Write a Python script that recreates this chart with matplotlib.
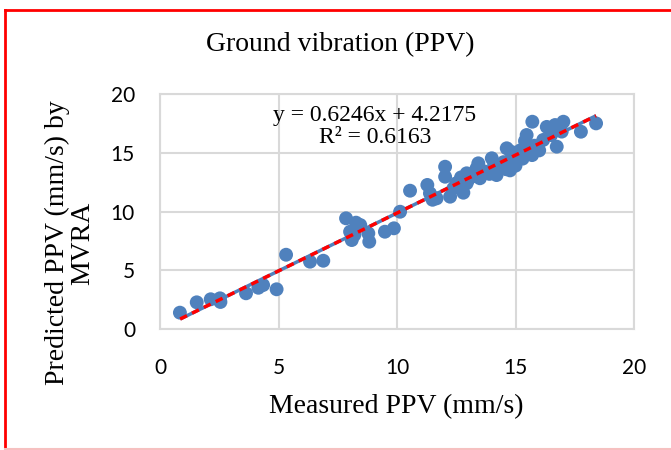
import matplotlib
matplotlib.use("Agg")
import matplotlib.pyplot as plt
from matplotlib.lines import Line2D

measured = [0.84, 1.55, 2.14, 2.53, 2.55, 3.63, 4.15, 4.35, 4.92, 5.32, 6.33, 6.89,
            7.85, 8.27, 8.45, 8.02, 8.09, 8.20, 8.79, 8.83, 9.49, 9.87, 10.13, 10.55,
            11.28, 11.39, 11.67, 11.50, 12.03, 12.03, 12.24, 12.38, 12.50, 12.94, 12.94,
            12.80, 13.00, 13.20, 13.43, 13.50, 13.70, 13.90, 14.00, 14.20, 14.30, 14.50,
            14.60, 14.77, 14.63, 14.80, 14.90, 15.00, 15.10, 15.20, 15.30, 15.47, 15.71,
            15.40, 15.50, 15.70, 15.80, 15.90, 16.00, 16.17, 16.32, 16.50, 16.67, 16.74,
            16.95, 17.02, 17.76, 18.40, 13.35, 14.10, 12.70]
predicted = [1.39, 2.27, 2.53, 2.61, 2.30, 3.04, 3.51, 3.74, 3.38, 6.32, 5.73, 5.81,
             9.42, 9.05, 8.85, 8.28, 7.57, 8.00, 8.14, 7.43, 8.28, 8.57, 9.98, 11.77,
             12.26, 11.55, 11.12, 11.00, 13.81, 12.96, 11.26, 11.97, 12.40, 13.25, 12.40,
             11.60, 12.70, 13.00, 14.10, 12.83, 13.40, 13.20, 14.53, 13.10, 13.80, 14.20,
             13.60, 13.50, 15.38, 15.10, 14.40, 13.90, 14.70, 15.20, 14.50, 16.51, 17.64,
             16.00, 15.00, 14.80, 15.60, 15.52, 15.20, 16.09, 17.20, 16.50, 17.36, 15.52,
             16.80, 17.64, 16.79, 17.50, 13.65, 14.00, 12.90]
trend_x = [0.85, 18.40]
trend_y = [0.85, 18.15]
x_ticks = [0, 5, 10, 15, 20]
y_ticks = [0, 5, 10, 15, 20]

title = "Ground vibration (PPV)"
xlabel = "Measured PPV (mm/s)"
ylabel = "Predicted PPV (mm/s) by\nMVRA"
equation = "y = 0.6246x + 4.2175\nR\u00b2 = 0.6163"

serif = ["Liberation Serif", "DejaVu Serif"]
sans = ["Lato", "DejaVu Sans"]

fig = plt.figure(figsize=(6.71, 4.5), dpi=100)
ax = fig.add_axes([160 / 671, 1 - 329 / 450, (634 - 160) / 671, (329 - 94) / 450])

grid_c = "#D9D9D9"
ax.set_xlim(0, 20)
ax.set_ylim(0, 20)
ax.set_xticks(x_ticks)
ax.set_yticks(y_ticks)
ax.grid(True, color=grid_c, linewidth=1.5)
ax.set_axisbelow(True)
for s in ax.spines.values():
    s.set_color(grid_c)
    s.set_linewidth(1.5)
ax.tick_params(axis="y", length=0, labelsize=15, pad=18, labelcolor="#000000")
ax.tick_params(axis="x", length=0, labelsize=15, pad=21, labelcolor="#000000")
for lab in ax.get_xticklabels() + ax.get_yticklabels():
    lab.set_family(sans)

ax.scatter(measured, predicted, s=100, color="#4F81BD", edgecolors="none", zorder=3)
ax.plot(trend_x, trend_y, color="#4F81BD", linewidth=2.5, zorder=4, solid_capstyle="butt")
ax.plot(trend_x, trend_y, color="#FF0000", linewidth=2.5, linestyle=(0, (2.2, 1.6)), zorder=5)

ax.text(0.4536, 0.862, equation, transform=ax.transAxes, ha="center", va="center",
        fontsize=17, family=serif, linespacing=1.08, zorder=6)

fig.text(340 / 671, 1 - 45 / 450, title, ha="center", va="center", fontsize=20, family=serif)
fig.text(396 / 671, 1 - 407 / 450, xlabel, ha="center", va="center", fontsize=20, family=serif)
fig.text(70 / 671, 1 - 243 / 450, ylabel, ha="center", va="center", fontsize=20, family=serif,
         rotation=90, linespacing=1.0)

W, H = 671, 450
def fx(p):
    return p / W
def fy(p):
    return 1 - p / H
fig.add_artist(Line2D([fx(5), fx(5)], [fy(10), fy(448)], color="#FF0000", linewidth=2,
                      transform=fig.transFigure))
fig.add_artist(Line2D([fx(5), 1.0], [fy(10), fy(10)], color="#FF0000", linewidth=2,
                      transform=fig.transFigure))
fig.add_artist(Line2D([fx(5), 1.0], [fy(448.5), fy(448.5)], color="#F6C0C0", linewidth=1.5,
                      transform=fig.transFigure))

fig.savefig("out.png", dpi=100)
